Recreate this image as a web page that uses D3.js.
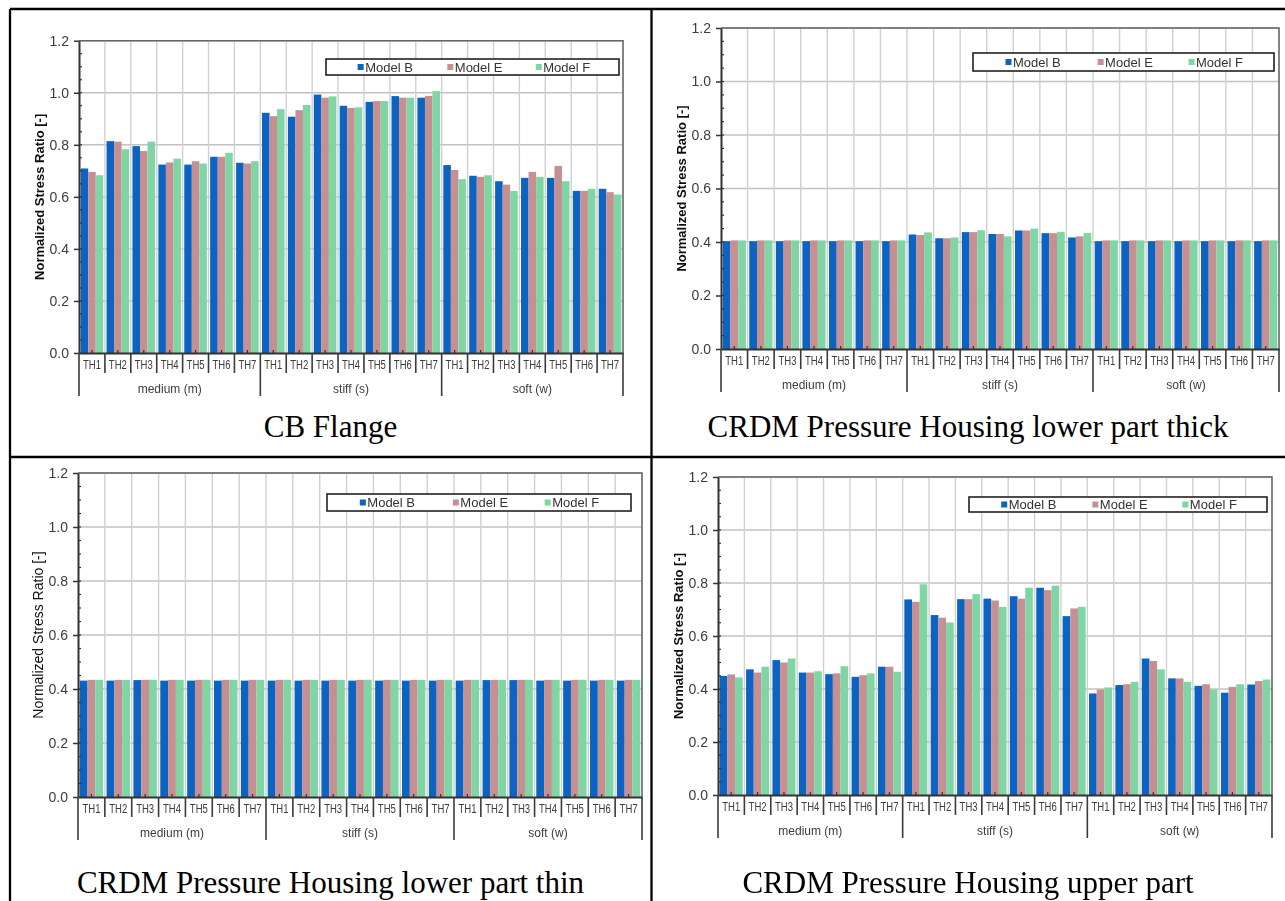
<!DOCTYPE html>
<html>
<head>
<meta charset="utf-8">
<script src="https://cdn.jsdelivr.net/npm/d3@7"></script>
<style>
  html, body { margin: 0; padding: 0; background: #fff; }
  svg { display: block; }
</style>
</head>
<body>
<svg id="fig" width="1285" height="901"></svg>
<script>
// ---- data -------------------------------------------------------------
const groups = ["medium (m)", "stiff (s)", "soft (w)"];
const tests = ["TH1", "TH2", "TH3", "TH4", "TH5", "TH6", "TH7"];
const seriesNames = ["Model B", "Model E", "Model F"];
const yTickValues = [0, 0.2, 0.4, 0.6, 0.8, 1.0, 1.2];
const panelTitles = [
  "CB Flange",
  "CRDM Pressure Housing lower part thick",
  "CRDM Pressure Housing lower part thin",
  "CRDM Pressure Housing upper part"
];

// CB Flange (medium TH1-7, stiff TH1-7, soft TH1-7)
const cbFlangeB = [0.709, 0.814, 0.795, 0.724, 0.724, 0.754, 0.731,
                   0.923, 0.908, 0.993, 0.950, 0.965, 0.987, 0.981,
                   0.722, 0.681, 0.660, 0.673, 0.673, 0.623, 0.631];
const cbFlangeE = [0.696, 0.812, 0.776, 0.732, 0.737, 0.754, 0.728,
                   0.910, 0.933, 0.981, 0.942, 0.968, 0.981, 0.988,
                   0.703, 0.677, 0.647, 0.696, 0.719, 0.623, 0.618];
const cbFlangeF = [0.683, 0.783, 0.812, 0.747, 0.728, 0.769, 0.737,
                   0.937, 0.953, 0.986, 0.944, 0.968, 0.981, 1.006,
                   0.668, 0.683, 0.623, 0.677, 0.660, 0.631, 0.609];

// CRDM pressure housing, lower part thick
const lowerThickB = [0.403, 0.403, 0.403, 0.403, 0.403, 0.403, 0.403,
                     0.428, 0.414, 0.437, 0.430, 0.443, 0.433, 0.417,
                     0.403, 0.403, 0.403, 0.403, 0.403, 0.403, 0.403];
const lowerThickE = [0.406, 0.406, 0.406, 0.406, 0.406, 0.406, 0.406,
                     0.426, 0.414, 0.437, 0.430, 0.443, 0.433, 0.421,
                     0.406, 0.406, 0.406, 0.406, 0.406, 0.406, 0.406];
const lowerThickF = [0.406, 0.406, 0.406, 0.406, 0.406, 0.406, 0.406,
                     0.436, 0.417, 0.444, 0.421, 0.450, 0.438, 0.434,
                     0.406, 0.406, 0.406, 0.406, 0.406, 0.406, 0.406];

// CRDM pressure housing, lower part thin
const lowerThinB = [0.431, 0.431, 0.433, 0.431, 0.431, 0.431, 0.431,
                    0.431, 0.431, 0.431, 0.431, 0.431, 0.431, 0.431,
                    0.431, 0.433, 0.433, 0.431, 0.431, 0.431, 0.431];
const lowerThinE = [0.434, 0.434, 0.434, 0.434, 0.434, 0.434, 0.434,
                    0.434, 0.434, 0.434, 0.434, 0.434, 0.434, 0.434,
                    0.434, 0.434, 0.434, 0.434, 0.434, 0.434, 0.434];
const lowerThinF = [0.434, 0.434, 0.434, 0.434, 0.434, 0.434, 0.434,
                    0.434, 0.434, 0.434, 0.434, 0.434, 0.434, 0.434,
                    0.434, 0.434, 0.434, 0.434, 0.434, 0.434, 0.434];

// CRDM pressure housing, upper part
const upperB = [0.449, 0.474, 0.509, 0.462, 0.456, 0.446, 0.484,
                0.738, 0.679, 0.739, 0.741, 0.750, 0.782, 0.675,
                0.383, 0.415, 0.515, 0.440, 0.412, 0.386, 0.417];
const upperE = [0.455, 0.462, 0.500, 0.462, 0.459, 0.452, 0.484,
                0.729, 0.669, 0.739, 0.734, 0.741, 0.773, 0.704,
                0.398, 0.418, 0.506, 0.440, 0.418, 0.408, 0.430];
const upperF = [0.444, 0.484, 0.515, 0.467, 0.486, 0.459, 0.465,
                0.795, 0.651, 0.758, 0.710, 0.782, 0.790, 0.710,
                0.406, 0.427, 0.474, 0.427, 0.398, 0.418, 0.436];

// ---- layout -----------------------------------------------------------
const panels = [
  { series: [cbFlangeB, cbFlangeE, cbFlangeF], title: panelTitles[0],
    left: 79, right: 623, top: 40.7, zero: 353,
    legend: [326, 59, 293, 16], titleX: 330.5, titleY: 437, boldTitle: true },
  { series: [lowerThickB, lowerThickE, lowerThickF], title: panelTitles[1],
    left: 721, right: 1279, top: 28, zero: 349,
    legend: [973, 53, 301, 18], titleX: 968, titleY: 437, boldTitle: true },
  { series: [lowerThinB, lowerThinE, lowerThinF], title: panelTitles[2],
    left: 78, right: 642, top: 473, zero: 797,
    legend: [327, 494, 304, 17], titleX: 330.5, titleY: 893, boldTitle: false },
  { series: [upperB, upperE, upperF], title: panelTitles[3],
    left: 718, right: 1272, top: 477, zero: 795,
    legend: [969, 497, 298, 15], titleX: 968, titleY: 893, boldTitle: true }
];

const sans = "'Liberation Sans', Arial, Helvetica, sans-serif";
const serif = "'Liberation Serif', 'Times New Roman', serif";
const colors = ["#0864c2", "#c68f91", "#80d5a5"];
const legendFrac = [0.108, 0.414, 0.716];

const categories = groups.flatMap(g => tests.map(t => g + "|" + t));

const svg = d3.select("#fig");
svg.append("defs").append("filter").attr("id", "soft")
  .attr("x", "-2%").attr("y", "-2%").attr("width", "104%").attr("height", "104%")
  .append("feGaussianBlur").attr("stdDeviation", 0.35);

function drawPanel(p) {
  const g = svg.append("g").attr("filter", "url(#soft)");

  const x0 = d3.scaleBand().domain(categories).range([p.left, p.right]).padding(0);
  const x1 = d3.scaleBand().domain(seriesNames).range([0, x0.bandwidth()]).paddingOuter(0.22);
  const y = d3.scaleLinear().domain([0, 1.2]).range([p.zero, p.top]);

  // background grid
  g.append("g").selectAll("line").data(yTickValues.filter(v => v > 0)).join("line")
    .attr("x1", p.left).attr("x2", p.right)
    .attr("y1", d => y(d)).attr("y2", d => y(d))
    .attr("stroke", "#c2c2c2").attr("stroke-width", 1.4);
  g.append("g").selectAll("line").data(categories.slice(1)).join("line")
    .attr("x1", d => x0(d)).attr("x2", d => x0(d))
    .attr("y1", p.top).attr("y2", p.zero)
    .attr("stroke", "#d0d0d0").attr("stroke-width", 1.4);

  // plot frame (top and right)
  g.append("path")
    .attr("d", `M${p.left},${y(1.2)}H${p.right}V${y(0)}`)
    .attr("fill", "none").attr("stroke", "#666").attr("stroke-width", 1.6);

  // bars
  const rows = categories.map((c, i) => ({
    c, vals: p.series.map((s, k) => ({ name: seriesNames[k], k, v: s[i] }))
  }));
  g.append("g").selectAll("g").data(rows).join("g")
    .attr("transform", d => `translate(${x0(d.c)},0)`)
    .selectAll("rect").data(d => d.vals).join("rect")
    .attr("x", d => x1(d.name)).attr("width", x1.bandwidth())
    .attr("y", d => y(d.v)).attr("height", d => y(0) - y(d.v))
    .attr("fill", d => colors[d.k]);

  // y axis
  const yAxis = d3.axisLeft(y).tickValues(yTickValues)
    .tickFormat(d3.format(".1f")).tickSize(5).tickSizeOuter(0).tickPadding(5);
  const ya = g.append("g").attr("transform", `translate(${p.left},0)`).call(yAxis);
  ya.select(".domain").attr("stroke", "#333").attr("stroke-width", 2);
  ya.selectAll(".tick line").attr("stroke", "#333").attr("stroke-width", 1.5);
  ya.selectAll("text").attr("font-size", 14).attr("font-family", sans).attr("fill", "#3c3c3c");
  // minor ticks
  g.append("g").selectAll("line").data(d3.range(0.05, 1.2, 0.05)).join("line")
    .attr("x1", p.left).attr("x2", p.left + 3)
    .attr("y1", d => y(d)).attr("y2", d => y(d))
    .attr("stroke", "#333").attr("stroke-width", 1.2);

  // x axis
  const xAxis = d3.axisBottom(x0).tickSize(0).tickPadding(7.5)
    .tickFormat(d => d.split("|")[1]);
  const xa = g.append("g").attr("transform", `translate(0,${y(0)})`).call(xAxis);
  xa.select(".domain").attr("stroke", "#333").attr("stroke-width", 2);
  xa.selectAll("text").attr("font-size", 12).attr("font-family", sans).attr("fill", "#3c3c3c")
    .attr("textLength", 18).attr("lengthAdjust", "spacingAndGlyphs");
  // short ticks at category centres
  g.append("g").selectAll("line").data(categories).join("line")
    .attr("x1", d => x0(d) + x0.bandwidth() / 2).attr("x2", d => x0(d) + x0.bandwidth() / 2)
    .attr("y1", y(0)).attr("y2", y(0) - 3)
    .attr("stroke", "#333").attr("stroke-width", 1.2);
  // separators between test cases and between soil groups
  const bounds = d3.range(0, categories.length + 1);
  const step = x0.step();
  g.append("g").selectAll("line").data(bounds).join("line")
    .attr("x1", i => p.left + i * step).attr("x2", i => p.left + i * step)
    .attr("y1", y(0))
    .attr("y2", i => y(0) + (i % tests.length === 0 ? 43 : 20))
    .attr("stroke", "#3a3a3a").attr("stroke-width", 1.6);
  // soil group labels
  g.append("g").selectAll("text").data(groups).join("text")
    .attr("x", (d, i) => p.left + (i + 0.5) * tests.length * step)
    .attr("y", y(0) + 39.5)
    .attr("text-anchor", "middle").attr("font-size", 12).attr("font-family", sans)
    .attr("fill", "#3c3c3c").text(d => d);

  // y axis title
  g.append("text")
    .attr("transform", `translate(${p.left - 40},${(y(0) + y(1.2)) / 2}) rotate(-90)`)
    .attr("text-anchor", "middle").attr("dominant-baseline", "central")
    .attr("font-size", p.boldTitle ? 13 : 14)
    .attr("font-weight", p.boldTitle ? "bold" : "normal")
    .attr("font-family", sans).attr("fill", "#111")
    .text("Normalized Stress Ratio [-]");

  // legend
  const [lx, ly, lw, lh] = p.legend;
  const lg = g.append("g");
  lg.append("rect").attr("x", lx).attr("y", ly).attr("width", lw).attr("height", lh)
    .attr("fill", "#fff").attr("stroke", "#222").attr("stroke-width", 1.6);
  const items = lg.selectAll("g").data(seriesNames).join("g")
    .attr("transform", (d, i) => `translate(${lx + lw * legendFrac[i]},${ly + lh / 2})`);
  items.append("rect").attr("x", 0).attr("y", -3).attr("width", 6).attr("height", 6)
    .attr("fill", (d, i) => colors[i]);
  items.append("text").attr("x", 7.5).attr("y", 0).attr("dominant-baseline", "central")
    .attr("font-size", 13).attr("font-family", sans).attr("fill", "#333").text(d => d);

  // caption under the chart
  svg.append("text").attr("x", p.titleX).attr("y", p.titleY)
    .attr("text-anchor", "middle").attr("font-size", 31).attr("font-family", serif)
    .attr("fill", "#000").text(p.title);
}

panels.forEach(drawPanel);

// table rules
const rules = svg.append("g").attr("stroke", "#000").attr("stroke-width", 2.3).attr("fill", "none");
rules.append("path").attr("d", "M10,9H1285");
rules.append("path").attr("d", "M10,9V901");
rules.append("path").attr("d", "M651.5,9V901");
rules.append("path").attr("d", "M10,457H1285");
</script>
</body>
</html>
